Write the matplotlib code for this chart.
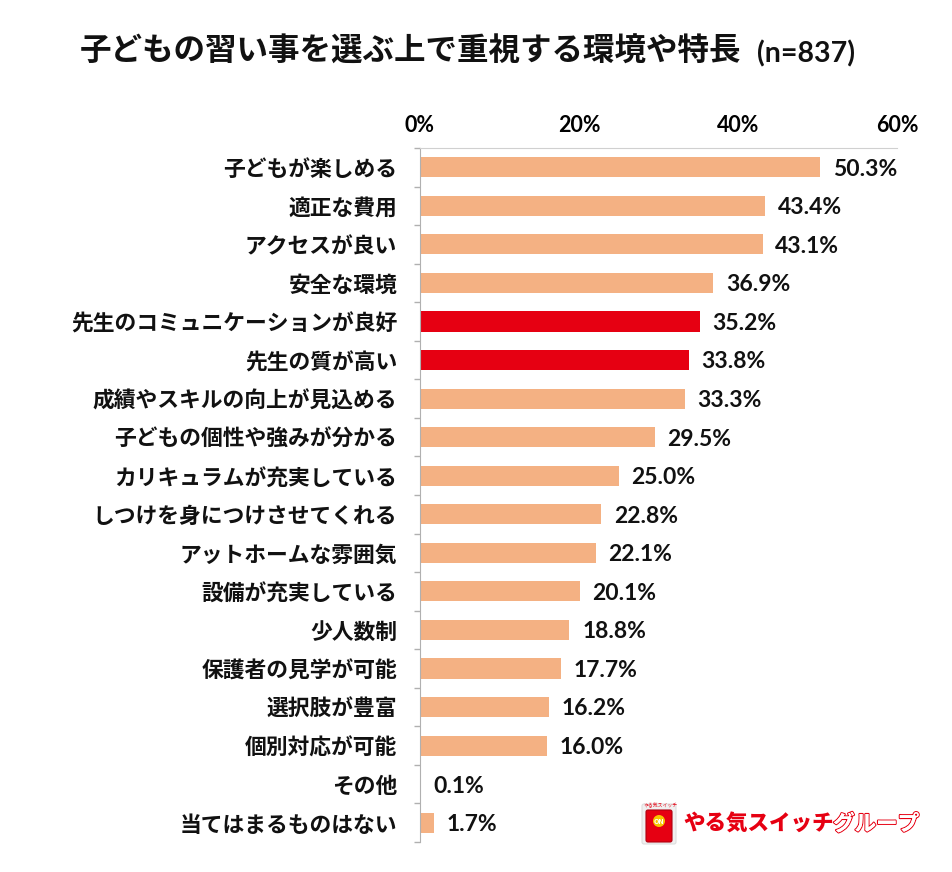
import matplotlib
matplotlib.use("Agg")
import matplotlib.pyplot as plt
from matplotlib.patches import FancyBboxPatch, Circle
import matplotlib.patheffects as pe

plt.rcParams['font.family'] = ['Noto Sans CJK JP', 'DejaVu Sans']

categories = [
    "子どもが楽しめる", "適正な費用", "アクセスが良い", "安全な環境",
    "先生のコミュニケーションが良好", "先生の質が高い", "成績やスキルの向上が見込める",
    "子どもの個性や強みが分かる", "カリキュラムが充実している", "しつけを身につけさせてくれる",
    "アットホームな雰囲気", "設備が充実している", "少人数制", "保護者の見学が可能",
    "選択肢が豊富", "個別対応が可能", "その他", "当てはまるものはない",
]
values = [50.3, 43.4, 43.1, 36.9, 35.2, 33.8, 33.3, 29.5, 25.0, 22.8,
          22.1, 20.1, 18.8, 17.7, 16.2, 16.0, 0.1, 1.7]
highlight = ["先生のコミュニケーションが良好", "先生の質が高い"]
xticks = [0, 20, 40, 60]
xtick_labels = ["0%", "20%", "40%", "60%"]

ORANGE = "#F4B183"
RED = "#E60012"
NUMFONT = ["Lato", "DejaVu Sans"]

fig = plt.figure(figsize=(9.53, 8.72), dpi=100)
ax = fig.add_axes([420/953, 1-842/872, (897-420)/953, (842-148)/872])

n = len(categories)
ypos = list(range(n))
colors = [RED if c in highlight else ORANGE for c in categories]
ax.barh(ypos, values, height=0.52, color=colors, zorder=2)
ax.set_ylim(n - 0.5, -0.5)
ax.set_xlim(0, 60)

for y, v in zip(ypos, values):
    ax.text(v + 1.6, y + 0.05, f"{v:.1f}%", va="center", ha="left", fontsize=16.5,
            fontweight="bold", family=NUMFONT, color="#111111")

ax.set_yticks(ypos)
ax.set_yticklabels(categories, fontsize=15.7, fontweight="bold", color="#111111")
ax.set_yticks([i - 0.5 for i in range(n + 1)], minor=True)
ax.tick_params(axis="y", which="major", length=0, pad=16.5)
ax.tick_params(axis="y", which="minor", length=4.5, color="#b0b0b0", width=1)

ax.xaxis.tick_top()
ax.set_xticks(xticks)
ax.set_xticklabels(xtick_labels, fontsize=15.5, fontweight="bold", family=NUMFONT)
ax.tick_params(axis="x", length=0, pad=9)

for s in ["right", "bottom"]:
    ax.spines[s].set_visible(False)
ax.spines["left"].set_color("#b0b0b0")
ax.spines["top"].set_color("#d0d0d0")

fig.text(80/953, 1-52/872, "子どもの習い事を選ぶ上で重視する環境や特長", fontsize=22.7,
         fontweight="bold", va="center", ha="left", color="#111111")
fig.text(757/953, 1-54/872, "(n=837)", fontsize=20.5, fontweight="bold",
         va="center", ha="left", color="#111111", family=NUMFONT)

# logo
lax = fig.add_axes([636/953, 1-848/872, 300/953, 50/872])
lax.set_xlim(0, 300)
lax.set_ylim(0, 50)
lax.axis("off")
lax.add_patch(FancyBboxPatch((6, 4), 34, 40, boxstyle="round,pad=0,rounding_size=2",
                             fc="#f0f0f0", ec="#dddddd", lw=0.8))
lax.add_patch(FancyBboxPatch((10, 6), 26, 32, boxstyle="round,pad=0,rounding_size=2",
                             fc=RED, ec="#b00010", lw=0.8))
lax.add_patch(Circle((23, 27), 6, fc="#F7C600", ec="none"))
lax.text(23, 27, "ON", fontsize=5, ha="center", va="center", color="white", fontweight="bold")
lax.text(8, 42.5, "やる気スイッチ", fontsize=3.5, color=RED, va="center", ha="left")
lax.text(47, 24, "やる気スイッチ", fontsize=15.5, fontweight="black", color=RED,
         va="center", ha="left")
t = lax.text(197, 24, "グループ", fontsize=15.5, fontweight="bold", color="white",
             va="center", ha="left")
t.set_path_effects([pe.withStroke(linewidth=1.6, foreground=RED), pe.Normal()])

fig.savefig("out.png", dpi=100, facecolor="white")
